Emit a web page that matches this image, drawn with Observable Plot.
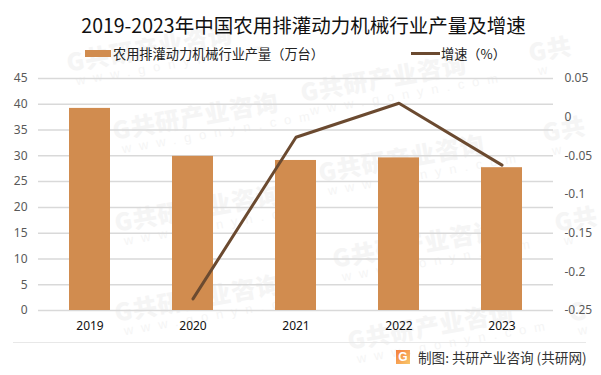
<!DOCTYPE html>
<html><head><meta charset="utf-8">
<script src="https://cdn.jsdelivr.net/npm/d3@7"></script>
<script src="https://cdn.jsdelivr.net/npm/@observablehq/plot@0.6"></script>
<style>
html,body{margin:0;padding:0;background:#fff}
body{width:601px;height:375px;overflow:hidden;position:relative;font-family:"Noto Sans CJK SC","Noto Sans",sans-serif}
#wm{position:absolute;left:0;top:0;width:601px;height:375px;overflow:hidden;z-index:0}
.w{position:absolute;transform:rotate(-10deg);transform-origin:0 0;white-space:nowrap;color:#f5f5f5}
.w b{display:block;font-size:24px;line-height:27px;letter-spacing:1px;font-weight:900}
.w i{display:block;font-style:normal;font-size:13px;line-height:16px;letter-spacing:8px;padding-left:6px;font-family:"Liberation Sans",sans-serif}
#title,#legend,#chart,#foot{position:relative;z-index:1}
#title{height:42px;padding-top:11px;box-sizing:border-box;text-align:center;font-size:19.5px;line-height:28px;color:#111;padding-left:6px;white-space:nowrap}
#legend{height:24px;font-size:12.8px;color:#222}
#legend span{position:absolute;top:3px;line-height:18px;white-space:nowrap}
#legend em{position:absolute}
#chart svg{display:block;background:transparent}
#foot{height:33px;border-top:1px solid #e8e8e8;margin:0 15px 0 13px;box-sizing:border-box}
#foot .t{position:absolute;left:405px;top:4px;font-size:13.6px;line-height:20px;color:#333;white-space:nowrap}
#foot .l{position:absolute;left:383px;top:7px;width:14px;height:14px;background:linear-gradient(135deg,#f47c3c,#f9c86a);color:#fff;font:bold 12px/14px "Liberation Sans",sans-serif;text-align:center}
</style></head><body>
<div id="wm"></div>
<div id="title">2019-2023年中国农用排灌动力机械行业产量及增速</div>
<div id="legend">
<em style="left:85px;top:8px;width:26px;height:7px;background:#d18c4f"></em><span style="left:113px;font-size:13.2px">农用排灌动力机械行业产量（万台）</span>
<em style="left:411px;top:10px;width:29px;height:3px;background:#6b4a30"></em><span style="left:441px;font-size:13.2px">增速（%）</span>
</div>
<div id="chart"></div>
<div id="foot"><div class="l">G</div><div class="t">制图: 共研产业咨询 (共研网)</div></div>
<script>
const years = ["2019","2020","2021","2022","2023"];
const output = [39.2,29.9,29.1,29.6,27.7];
const growthYears = ["2020","2021","2022","2023"];
const growth = [-0.235,-0.026,0.018,-0.062];
const leftTicks = [0,5,10,15,20,25,30,35,40,45];
const rightTicks = [-0.25,-0.2,-0.15,-0.1,-0.05,0,0.05];
const toLeft = d3.scaleLinear([-0.25,0.05],[0,45]);
const barData = years.map((y,i)=>({year:y,value:output[i]}));
const lineData = growthYears.map((y,i)=>({year:y,value:toLeft(growth[i])}));
const rightFmt = new Map(rightTicks.map(t=>[toLeft(t),String(t)]));
const plot = Plot.plot({
  width:601,height:276,marginLeft:38,marginRight:48,marginTop:12,marginBottom:32,
  style:{background:"transparent",fontSize:"12px",fontFamily:'"Noto Sans","Noto Sans CJK SC",sans-serif'},
  x:{domain:years,paddingInner:0.6,paddingOuter:0.3,label:null},
  y:{domain:[0,45],label:null},
  marks:[
    Plot.ruleY(leftTicks,{stroke:"#d9d9d9",strokeWidth:1.5}),
    Plot.barY(barData,{x:"year",y:"value",fill:"#d18c4f"}),
    Plot.line(lineData,{x:"year",y:"value",stroke:"#6b4a30",strokeWidth:3,strokeLinecap:"round"}),
    Plot.axisY({ticks:leftTicks,anchor:"left",tickSize:0,tickPadding:11,label:null,color:"#595959"}),
    Plot.axisY({ticks:rightTicks.map(t=>toLeft(t)),anchor:"right",tickSize:0,tickPadding:11,textAnchor:"start",label:null,color:"#595959",tickFormat:v=>rightFmt.get(v)}),
    Plot.axisX({tickSize:0,tickPadding:11,label:null,color:"#111"})
  ]
});
document.getElementById("chart").append(plot);
const wmFull = [[64,62],[110,130],[112,222],[112,312],[298,92],[316,172],[330,258],[345,340]];
const wmShort = [[526,52,"G共"],[540,132,"G共"],[552,222,"G共"],[566,312,"G"]];
const wmHtml = (x,y,a,b)=>`<div class="w" style="left:${x}px;top:${y-14}px"><b>${a}</b><i>${b}</i></div>`;
document.getElementById("wm").innerHTML =
  wmFull.map(([x,y])=>wmHtml(x,y,"G共研产业咨询","www.gonyn.com")).join("") +
  wmShort.map(([x,y,a])=>wmHtml(x,y,a,"w")).join("");
</script>
</body></html>
